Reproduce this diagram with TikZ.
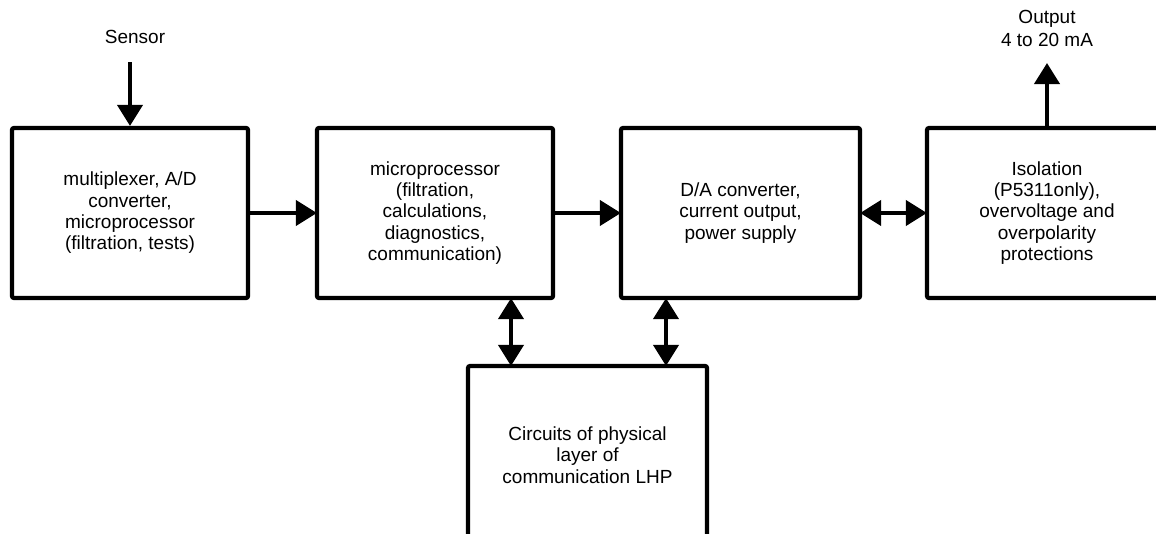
\documentclass[tikz,border=0pt]{standalone}
\usepackage{fontspec}
\setmainfont{Liberation Sans}
\usetikzlibrary{arrows.meta}
\tikzset{
  blk/.style={draw, line width=4.2pt, rounded corners=2pt, inner sep=0pt,
    align=center, font=\fontsize{19}{21.3}\selectfont, text=black},
  conn/.style={line width=4pt, -{Triangle[length=21pt,width=25pt]}},
  biconn/.style={line width=4pt, {Triangle[length=21pt,width=25pt]}-{Triangle[length=21pt,width=25pt]}},
  lbl/.style={align=center, inner sep=0pt, font=\fontsize{19}{23}\selectfont, text=black}
}
\begin{document}
\begin{tikzpicture}[x=1pt,y=-1pt]
\useasboundingbox (0,0) rectangle (1156,533);
\clip (0,0) rectangle (1156,533);
\node[blk, minimum width=236pt, minimum height=170pt] (b1) at (130,213)
  {multiplexer, A/D\\converter,\\microprocessor\\(filtration, tests)};
\node[blk, minimum width=236pt, minimum height=170pt] (b2) at (435,213)
  {microprocessor\\(filtration,\\calculations,\\diagnostics,\\communication)};
\node[blk, minimum width=239pt, minimum height=170pt] (b3) at (740.5,213)
  {D/A converter,\\current output,\\power supply};
\node[blk, minimum width=240pt, minimum height=170pt] (b4) at (1047,213)
  {Isolation\\(P5311only),\\overvoltage and\\overpolarity\\protections};
\node[blk, minimum width=239pt, minimum height=178pt] (b5) at (587.5,455)
  {Circuits of physical\\layer of\\communication LHP};
\node[lbl] (sensor) at (135,37) {Sensor};
\node[lbl] (output) at (1047,28) {Output\\4 to 20 mA};
\coordinate (sin) at (130,62);
\coordinate (sout) at (1047,63);
\coordinate (v1) at (511,0);
\coordinate (v2) at (666,0);
\draw[conn] (sin) -- (b1.north);
\draw[conn] (b4.north) -- (sout);
\draw[conn, shorten >=-2pt] (b1.east) -- (b2.west);
\draw[conn, shorten >=-2pt] (b2.east) -- (b3.west);
\draw[biconn, shorten >=-2pt, shorten <=-2pt] (b3.east) -- (b4.west);
\draw[biconn, shorten >=-2pt, shorten <=-2pt] (b2.south -| v1) -- (b5.north -| v1);
\draw[biconn, shorten >=-2pt, shorten <=-2pt] (b3.south -| v2) -- (b5.north -| v2);
\end{tikzpicture}
\end{document}
